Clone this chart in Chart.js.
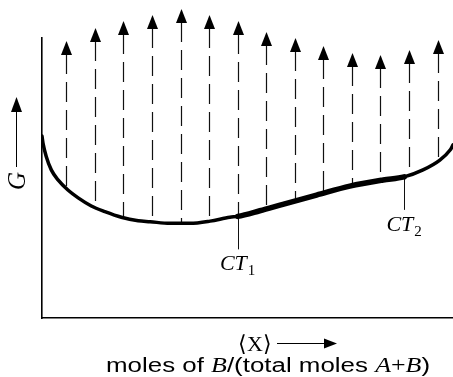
<!DOCTYPE html>
<html>
<head>
<meta charset="utf-8">
<script src="https://cdn.jsdelivr.net/npm/chart.js@4.4.1/dist/chart.umd.min.js"></script>
<style>
  html, body { margin: 0; padding: 0; background: #fff; }
</style>
</head>
<body>
<canvas id="chart" width="453" height="377"></canvas>
<script>
// Gibbs free energy curve, x = % of B, y = G in axis units (0..100)
const curveX = [0, 0.24, 1.05, 2.26, 3.9, 6.3, 8.8, 12.0, 15.3, 19.3, 23.4, 26.3, 31.1, 36.0, 40.9, 45.7, 47.6, 53.0, 58.6, 66.8, 74.9, 83.0, 88.1, 92.7, 96.8, 99.3, 100];
const curveY = [65.0, 62.5, 57.6, 52.9, 49.3, 45.7, 42.9, 40.0, 38.0, 36.0, 34.75, 34.4, 33.8, 33.8, 34.6, 36.0, 36.3, 38.3, 40.6, 43.9, 47.1, 49.3, 50.4, 52.9, 56.4, 60.0, 61.8];

// common tangent points (thick stretch between them)
const ctX = [47.6, 88.1];
const ctNames = ['1', '2'];

// dashed arrows: where they stand and how high the head reaches
const arrowX = [5.8, 12.8, 19.8, 26.8, 33.8, 40.7, 47.6, 54.5, 61.5, 68.4, 75.4, 82.3, 89.3, 96.4];
const arrowTop = [98.9, 103.6, 106.1, 108.2, 110.4, 108.2, 106.1, 102.1, 100.0, 97.1, 94.6, 93.9, 95.7, 99.3];

function curveAt(v) {
  for (let i = 1; i < curveX.length; i++) {
    if (v <= curveX[i]) {
      const t = (v - curveX[i - 1]) / (curveX[i] - curveX[i - 1]);
      return curveY[i - 1] + t * (curveY[i] - curveY[i - 1]);
    }
  }
  return curveY[curveY.length - 1];
}

function head(ctx, x, tip, dir, len, half) {
  // dir: 'up' or 'right'
  ctx.beginPath();
  if (dir === 'up') {
    ctx.moveTo(x, tip);
    ctx.lineTo(x - half, tip + len);
    ctx.lineTo(x + half, tip + len);
  } else {
    ctx.moveTo(x, tip);
    ctx.lineTo(x - len, tip - half);
    ctx.lineTo(x - len, tip + half);
  }
  ctx.closePath();
  ctx.fill();
}

const arrowsPlugin = {
  id: 'arrows',
  beforeDatasetsDraw(chart) {
    const { ctx, scales: { x, y } } = chart;
    ctx.save();
    ctx.strokeStyle = '#111';
    ctx.fillStyle = '#000';
    ctx.lineWidth = 1.2;
    arrowX.forEach((v, i) => {
      const px = Math.round(x.getPixelForValue(v)) + 0.5;
      const tip = y.getPixelForValue(arrowTop[i]);
      const bottom = y.getPixelForValue(curveAt(v));
      ctx.setLineDash([20, 8]);
      ctx.beginPath();
      ctx.moveTo(px, tip + 13);
      ctx.lineTo(px, bottom);
      ctx.stroke();
      ctx.setLineDash([]);
      head(ctx, px, tip, 'up', 14, 5.5);
    });
    // thin leaders below the tangent points
    ctx.lineWidth = 1;
    ctX.forEach(v => {
      const px = Math.round(x.getPixelForValue(v)) + 0.5;
      const py = y.getPixelForValue(curveAt(v));
      ctx.beginPath();
      ctx.moveTo(px, py);
      ctx.lineTo(px, py + 33);
      ctx.stroke();
    });
    ctx.restore();
  },
  afterDraw(chart) {
    const { ctx, scales: { x, y } } = chart;
    ctx.save();
    ctx.fillStyle = '#000';
    ctx.strokeStyle = '#000';
    ctx.textBaseline = 'alphabetic';

    // CT labels
    ctX.forEach((v, i) => {
      const px = x.getPixelForValue(v);
      const base = y.getPixelForValue(curveAt(v)) + 54;
      ctx.font = 'italic 22px "Liberation Serif"';
      const w1 = ctx.measureText('CT').width;
      ctx.font = '15px "Liberation Serif"';
      const w2 = ctx.measureText(ctNames[i]).width;
      const left = px - (w1 + w2 + 1) / 2;
      ctx.font = 'italic 22px "Liberation Serif"';
      ctx.textAlign = 'left';
      ctx.fillText('CT', left, base);
      ctx.font = '15px "Liberation Serif"';
      ctx.fillText(ctNames[i], left + w1 + 1, base + 5);
    });

    // y title: G with arrow
    ctx.save();
    ctx.translate(25, 181);
    ctx.rotate(-Math.PI / 2);
    ctx.font = 'italic 25px "Liberation Serif"';
    ctx.textAlign = 'center';
    ctx.fillText('G', 0, 0);
    ctx.restore();
    ctx.lineWidth = 1;
    ctx.beginPath();
    ctx.moveTo(16.5, 167);
    ctx.lineTo(16.5, 108);
    ctx.stroke();
    head(ctx, 16.5, 97, 'up', 15, 5.5);

    // x title: <X> with arrow
    ctx.font = '22px "Liberation Serif"';
    ctx.textAlign = 'left';
    ctx.fillText('\u27E8X\u27E9', 238, 351);
    ctx.lineWidth = 1.2;
    ctx.beginPath();
    ctx.moveTo(277, 343.5);
    ctx.lineTo(326, 343.5);
    ctx.stroke();
    head(ctx, 337, 343.5, 'right', 13, 5);

    // second line, mixed fonts
    const parts = [
      ['moles of ', '20px "Liberation Sans"'],
      ['B', 'italic 20px "Liberation Serif"'],
      ['/(total moles ', '20px "Liberation Sans"'],
      ['A', 'italic 20px "Liberation Serif"'],
      ['+', '20px "Liberation Serif"'],
      ['B', 'italic 20px "Liberation Serif"'],
      [')', '20px "Liberation Sans"']
    ];
    let total = 0;
    parts.forEach(p => { ctx.font = p[1]; total += ctx.measureText(p[0]).width; });
    const targetW = 324, left = 106;
    ctx.save();
    ctx.translate(left, 372);
    ctx.scale(targetW / total, 1);
    let cx = 0;
    parts.forEach(p => {
      ctx.font = p[1];
      ctx.fillText(p[0], cx, 0);
      cx += ctx.measureText(p[0]).width;
    });
    ctx.restore();
    ctx.restore();
  }
};

new Chart(document.getElementById('chart'), {
  type: 'line',
  data: {
    datasets: [{
      data: curveX.map((v, i) => ({ x: v, y: curveY[i] })),
      borderColor: '#000',
      borderWidth: 3.5,
      pointRadius: 0,
      cubicInterpolationMode: 'monotone',
      borderCapStyle: 'round',
      segment: {
        borderWidth: c => (c.p0.parsed.x >= ctX[0] - 0.01 && c.p1.parsed.x <= ctX[1] + 0.01) ? 5.5 : 3.5
      }
    }]
  },
  options: {
    responsive: false,
    animation: false,
    devicePixelRatio: 1,
    layout: { padding: { left: 42, top: 38, right: 0, bottom: 59 } },
    plugins: { legend: { display: false }, tooltip: { enabled: false } },
    scales: {
      x: {
        type: 'linear', min: 0, max: 100,
        ticks: { display: false },
        grid: { color: 'transparent', drawTicks: false },
        border: { color: '#000', width: 1.6 }
      },
      y: {
        min: 0, max: 100,
        ticks: { display: false },
        grid: { color: 'transparent', drawTicks: false },
        border: { color: '#000', width: 1.6 }
      }
    }
  },
  plugins: [arrowsPlugin]
});
</script>
</body>
</html>
